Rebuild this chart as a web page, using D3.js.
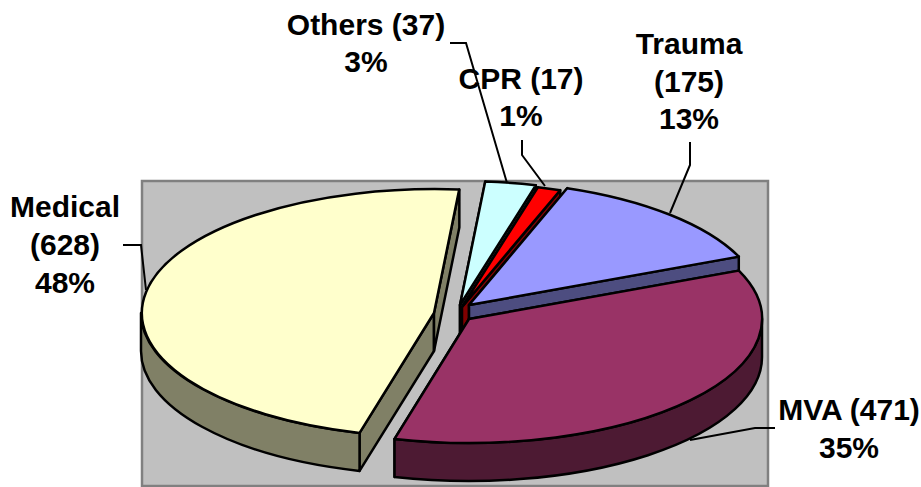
<!DOCTYPE html>
<html>
<head>
<meta charset="utf-8">
<script src="https://cdn.jsdelivr.net/npm/d3@7"></script>
<style>
    html, body { margin: 0; padding: 0; background: #fff; }
    svg { display: block; }
    text { font-family: "Liberation Sans", Arial, sans-serif; font-weight: bold; font-size: 30px; fill: #000; }
</style>
</head>
<body>
<svg id="chart" width="921" height="487"></svg>
<script>
// data, in the order the slices run clockwise
const categories = ["Trauma", "MVA", "Medical", "Others", "CPR"];
const counts = [175, 471, 628, 37, 17];
const percents = ["13%", "35%", "48%", "3%", "1%"];
const topColors = ["#9999FF", "#993366", "#FFFFCC", "#CCFFFF", "#FF0000"];
const wallColors = ["#4D4D80", "#4D1A33", "#808066", "#668080", "#800000"];

// layout
const width = 921, height = 487;
const plot = { x: 142, y: 181, w: 626, h: 305 };
const rx = 293, ry = 124, depth = 38;
const strokeW = 2.5;
const startDeg = 19.6;
// exploded centre of every slice
const centers = {
    Trauma: [469, 305],
    MVA: [469, 319],
    Medical: [434, 313],
    Others: [460, 305],
    CPR: [462, 307]
};
const drawOrder = ["Others", "CPR", "Trauma", "MVA", "Medical"];

const labelLayout = {
    Trauma: { x: 689, ys: [43, 81, 118], lines: c => [c.name, `(${c.value})`, c.pct] },
    MVA: { x: 849, ys: [409, 447], lines: c => [`${c.name} (${c.value})`, c.pct] },
    Medical: { x: 65, ys: [206, 244, 282], lines: c => [c.name, `(${c.value})`, c.pct] },
    Others: { x: 366, ys: [24, 61], lines: c => [`${c.name} (${c.value})`, c.pct] },
    CPR: { x: 521, ys: [78, 115], lines: c => [`${c.name} (${c.value})`, c.pct] }
};
const leaders = {
    Trauma: [[690, 142], [690, 165], [670, 213]],
    MVA: [[775, 428], [755, 428], [690, 440]],
    Medical: [[123, 245], [141, 245], [146, 290]],
    Others: [[450, 43], [466, 43], [507, 183]],
    CPR: [[522, 140], [522, 155], [545, 186]]
};

const svg = d3.select("#chart");

svg.append("rect")
    .attr("x", plot.x).attr("y", plot.y)
    .attr("width", plot.w).attr("height", plot.h)
    .attr("fill", "#C0C0C0")
    .attr("stroke", "#808080")
    .attr("stroke-width", strokeW);

const pie = d3.pie()
    .sort(null)
    .startAngle(startDeg * Math.PI / 180)
    .endAngle(startDeg * Math.PI / 180 + 2 * Math.PI);

const slices = pie(counts).map((d, i) => ({
    name: categories[i],
    value: counts[i],
    pct: percents[i],
    top: topColors[i],
    wall: wallColors[i],
    a0: d.startAngle,
    a1: d.endAngle
}));

// d3 pie angles are clockwise from twelve o'clock
function rim(c, a, dy = 0) {
    return [c[0] + rx * Math.sin(a), c[1] - ry * Math.cos(a) + dy];
}
const poly = pts => "M" + pts.map(p => p.join(",")).join("L") + "Z";

const unitArc = d3.arc().innerRadius(0).outerRadius(1);

const line = d3.line();

function drawSlice(d) {
    const c = centers[d.name];
    const g = svg.append("g").attr("class", "slice");
    const wallStyle = sel => sel
        .attr("fill", d.wall)
        .attr("stroke", "#000")
        .attr("stroke-width", strokeW)
        .attr("stroke-linejoin", "round");

    // flat walls along both cut edges
    [d.a0, d.a1].forEach(a => {
        const p = rim(c, a);
        g.append("path")
            .attr("d", poly([c, p, [p[0], p[1] + depth], [c[0], c[1] + depth]]))
            .call(wallStyle);
    });

    // curved wall, only the part that faces the viewer
    const vis0 = Math.max(d.a0, Math.PI / 2 + 2 * Math.PI * Math.floor(d.a0 / (2 * Math.PI)));
    const vis1 = Math.min(d.a1, 3 * Math.PI / 2 + 2 * Math.PI * Math.floor(d.a0 / (2 * Math.PI)));
    if (vis1 > vis0) {
        const a = rim(c, vis0), b = rim(c, vis1);
        g.append("path")
            .attr("d", `M${a}A${rx},${ry} 0 0 1 ${b}L${b[0]},${b[1] + depth}A${rx},${ry} 0 0 0 ${a[0]},${a[1] + depth}Z`)
            .call(wallStyle);
    }

    // top face
    g.append("path")
        .attr("d", unitArc({ startAngle: d.a0, endAngle: d.a1 }))
        .attr("transform", `translate(${c[0]},${c[1]}) scale(${rx},${ry})`)
        .attr("fill", d.top)
        .attr("stroke", "#000")
        .attr("stroke-width", strokeW)
        .attr("stroke-linejoin", "round")
        .attr("vector-effect", "non-scaling-stroke");
}

drawOrder.forEach(name => drawSlice(slices.find(s => s.name === name)));

// leader lines
svg.append("g")
    .selectAll("path")
    .data(slices)
    .join("path")
    .attr("d", d => line(leaders[d.name]))
    .attr("fill", "none")
    .attr("stroke", "#000")
    .attr("stroke-width", 2);

// labels
slices.forEach(d => {
    const l = labelLayout[d.name];
    l.lines(d).forEach((t, i) => {
        svg.append("text")
            .attr("x", l.x)
            .attr("y", l.ys[i])
            .attr("dy", "0.35em")
            .attr("text-anchor", "middle")
            .text(t);
    });
});
</script>
</body>
</html>
